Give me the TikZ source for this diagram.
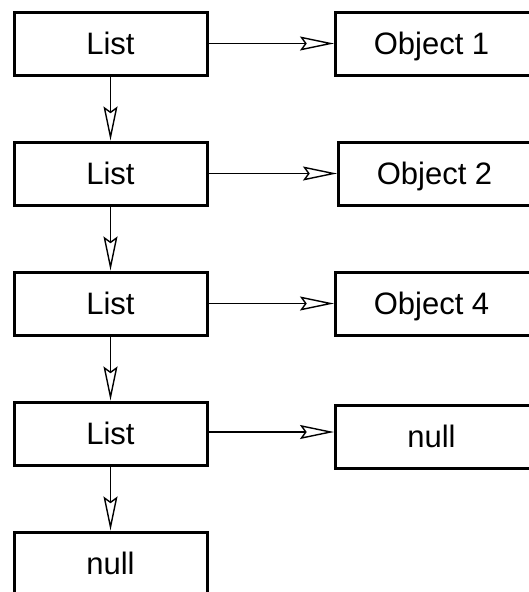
\documentclass[tikz,border=0pt]{standalone}
\usepackage{fontspec}
\setmainfont{Liberation Sans}
\usetikzlibrary{arrows.meta}
\begin{document}
\begin{tikzpicture}[x=1pt,y=-1pt,
  box/.style={draw, line width=3pt, minimum width=193pt, minimum height=63pt,
    inner sep=0pt, text height=22pt, text depth=0pt,
    font=\fontsize{31}{36}\selectfont},
  objbox/.style={box, minimum width=200pt, execute at end node={\hspace*{8pt}}},
  link/.style={line width=1.4pt,
    -{Stealth[open, length=34pt, width=14pt, inset=5pt, line width=1.4pt]}}]
\useasboundingbox (0,0) rectangle (528,592);
% list cells
\node[box] (l1) at (110.5,43.5) {List};
\node[box] (l2) at (110.5,173.5) {List};
\node[box] (l3) at (110.5,303.5) {List};
\node[box] (l4) at (110.5,433.5) {List};
\node[box] (l5) at (110.5,563.5) {null};
% referenced objects
\node[objbox] (o1) at (435.5,43.5) {Object 1};
\node[objbox] (o2) at (438.5,173.5) {Object 2};
\node[objbox] (o3) at (435.5,303.5) {Object 4};
\node[objbox] (o4) at (435.5,436.5) {null};
% next links
\draw[link] (l1) -- (l2);
\draw[link] (l2) -- (l3);
\draw[link] (l3) -- (l4);
\draw[link] (l4) -- (l5);
% item links
\draw[link] (l1.east) -- (l1.east -| o1.west);
\draw[link] (l2.east) -- (l2.east -| o2.west);
\draw[link] (l3.east) -- (l3.east -| o3.west);
\draw[link] ([yshift=1.5pt]l4.east) -- ([yshift=1.5pt]l4.east -| o4.west);
\end{tikzpicture}
\end{document}
